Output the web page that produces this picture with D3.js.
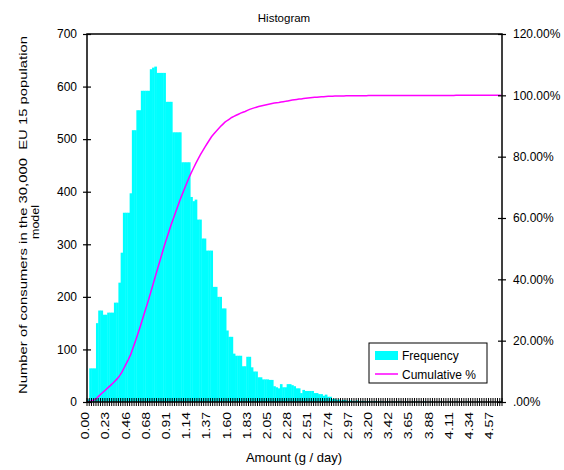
<!DOCTYPE html>
<html><head><meta charset="utf-8">
<script src="https://cdn.jsdelivr.net/npm/d3@7"></script>
<style>body{margin:0;background:#fff}svg{display:block;font-family:"Liberation Sans",Arial,sans-serif}</style>
</head><body><svg id="c" width="564" height="470"></svg>
<script>
// Frequency per bin (consumers)
const frequency = [
  5, 64, 64, 64, 150, 174, 174, 166, 166, 170,
  170, 170, 189, 189, 227, 284, 360, 360, 360, 397,
  517, 517, 555, 555, 592, 592, 592, 592, 633, 636,
  638, 626, 626, 626, 626, 571, 571, 571, 513, 513,
  513, 513, 456, 456, 456, 456, 390, 382, 385, 347,
  347, 311, 311, 288, 288, 288, 219, 219, 200, 200,
  178, 178, 136, 124, 124, 92, 88, 88, 88, 68,
  68, 86, 86, 66, 58, 58, 47, 47, 43, 43,
  43, 42, 42, 30, 28, 26, 34, 28, 28, 34,
  34, 32, 30, 26, 26, 17, 23, 21, 21, 21,
  21, 17, 17, 15, 15, 12, 14, 10, 10, 6,
  6, 4, 5, 3, 4, 3, 2, 3, 2, 2,
  3, 1, 2, 2, 1, 2, 1, 1, 2, 1,
  1, 1, 0, 1, 1, 0, 1, 0, 1, 1,
  0, 0, 1, 0, 0, 1, 0, 1, 0, 0,
  1, 0, 0, 1, 0, 0, 0, 1, 0, 0,
  0, 1, 0, 0, 1, 0, 0, 0, 0, 1,
  0, 0, 0, 0, 1, 0, 0, 0, 0, 0,
  0, 0, 0, 0, 1
];
// Category labels shown on the x axis (every 9th bin)
const tickLabels = ["0.00","0.23","0.46","0.68","0.91","1.14","1.37","1.60","1.83","2.05","2.28",
                    "2.51","2.74","2.97","3.20","3.42","3.65","3.88","4.11","4.34","4.57"];
const labelEvery = 9;
const leftTicks = [0,100,200,300,400,500,600,700];
const rightTicks = [0,0.2,0.4,0.6,0.8,1.0,1.2];
const seriesNames = ["Frequency","Cumulative %"];

const total = d3.sum(frequency);
const cumulative = Array.from(d3.cumsum(frequency), v => v / total);

const svg = d3.select("#c");
const L = 87, R = 502, T = 34, B = 402;
const x = d3.scaleBand().domain(d3.range(frequency.length)).range([L, R]).padding(0);
const y = d3.scaleLinear().domain([0, 700]).range([B, T]);
const y2 = d3.scaleLinear().domain([0, 1.2]).range([B, T]);

// bars
svg.append("g").selectAll("rect").data(frequency).join("rect")
  .attr("x", (d, i) => x(i)).attr("width", x.bandwidth() + 0.4)
  .attr("y", d => y(d)).attr("height", d => B - y(d))
  .attr("fill", "#00ffff");

// cumulative line
svg.append("path").datum(cumulative)
  .attr("fill", "none").attr("stroke", "#ff00ff").attr("stroke-width", 1.5)
  .attr("d", d3.line().x((d, i) => x(i) + x.bandwidth() / 2).y(d => y2(d)));

// frame
svg.append("rect").attr("x", L).attr("y", T).attr("width", R - L).attr("height", B - T)
  .attr("fill", "none").attr("stroke", "#000").attr("stroke-width", 1.5);

// left axis
const ga = svg.append("g").attr("transform", `translate(${L},0)`)
  .call(d3.axisLeft(y).tickValues(leftTicks).tickSize(4).tickPadding(6));
ga.select(".domain").remove();
ga.selectAll(".tick line").attr("x1", 4).attr("stroke-width", 1.2);
ga.selectAll("text").attr("font-size", 12).attr("font-family", "Liberation Sans, Arial").attr("fill", "#000");

// right axis
const gr = svg.append("g").attr("transform", `translate(${R},0)`)
  .call(d3.axisRight(y2).tickValues(rightTicks).tickSize(4).tickPadding(7)
    .tickFormat(d => d === 0 ? ".00%" : d3.format(".2%")(d)));
gr.select(".domain").remove();
gr.selectAll(".tick line").attr("x1", -4).attr("stroke-width", 1.2);
gr.selectAll("text").attr("font-size", 12).attr("font-family", "Liberation Sans, Arial").attr("fill", "#000");

// bottom ticks at category boundaries
const bounds = d3.range(frequency.length + 1);
svg.append("g").selectAll("line").data(bounds).join("line")
  .attr("x1", i => L + i * x.step()).attr("x2", i => L + i * x.step())
  .attr("y1", B - 4).attr("y2", B + 4).attr("stroke", "#000").attr("stroke-width", 1);

// bottom labels
svg.append("g").selectAll("text").data(tickLabels).join("text")
  .attr("transform", (d, k) => `translate(${x(k * labelEvery) + x.bandwidth() / 2 - 2.5},${B + 10}) rotate(-90)`)
  .attr("text-anchor", "end").attr("dy", "0.35em")
  .attr("font-size", 10.5).attr("textLength", d => d.length * 6.8).attr("lengthAdjust", "spacingAndGlyphs")
  .text(d => d);

// title
svg.append("text").attr("x", 284).attr("y", 22).attr("text-anchor", "middle")
  .attr("font-size", 11.5).text("Histogram");

// x title
svg.append("text").attr("x", 294).attr("y", 462).attr("text-anchor", "middle")
  .attr("font-size", 13).text("Amount (g / day)");

// y title
svg.append("text").attr("transform", "translate(27,215) rotate(-90)").attr("text-anchor", "middle")
  .style("white-space", "pre")
  .attr("font-size", 11.5).attr("textLength", 358).attr("lengthAdjust", "spacingAndGlyphs")
  .text("Number of consumers in the 30,000  EU 15 population");
svg.append("text").attr("transform", "translate(39,222) rotate(-90)").attr("text-anchor", "middle")
  .attr("font-size", 11.5).attr("textLength", 34).attr("lengthAdjust", "spacingAndGlyphs")
  .text("model");

// legend
const lg = svg.append("g");
lg.append("rect").attr("x", 369).attr("y", 343).attr("width", 118).attr("height", 40)
  .attr("fill", "#fff").attr("stroke", "#000").attr("stroke-width", 1);
lg.append("rect").attr("x", 375).attr("y", 351).attr("width", 23).attr("height", 9).attr("fill", "#00ffff");
lg.append("line").attr("x1", 375).attr("x2", 398).attr("y1", 374).attr("y2", 374)
  .attr("stroke", "#ff00ff").attr("stroke-width", 1.5);
lg.append("text").attr("x", 402).attr("y", 359.5).attr("font-size", 12).text(seriesNames[0]);
lg.append("text").attr("x", 402).attr("y", 378.5).attr("font-size", 12).text(seriesNames[1]);
</script></body></html>
